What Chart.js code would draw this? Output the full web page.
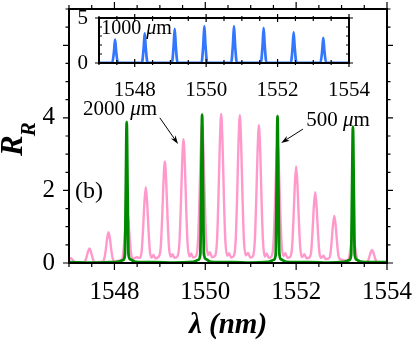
<!DOCTYPE html>
<html>
<head>
<meta charset="utf-8">
<script src="https://cdn.jsdelivr.net/npm/chart.js@4.4.1/dist/chart.umd.min.js"></script>
<style>
  html, body { margin: 0; padding: 0; background: #fff; }
  #wrap { position: relative; width: 415px; height: 345px; }
  #main { position: absolute; left: 0; top: 0; }
  #inset { position: absolute; left: 60px; top: 10px; }
</style>
</head>
<body>
<div id="wrap">
  <canvas id="main" width="415" height="345"></canvas>
  <canvas id="inset" width="330" height="90"></canvas>
</div>
<script>
// spectra: [lambda (nm), R_R]
const spec2000 = [
  [1547.00,0.10],[1547.04,0.13],[1547.07,0.10],[1547.10,0.06],[1547.13,0.02],[1547.25,0.02],
  [1547.32,0.02],[1547.36,0.06],[1547.39,0.18],[1547.42,0.32],[1547.45,0.40],[1547.48,0.32],[1547.51,0.18],[1547.54,0.06],[1547.58,0.02],[1547.66,0.03],
  [1547.74,0.03],[1547.78,0.14],[1547.81,0.37],[1547.84,0.68],[1547.87,0.85],[1547.90,0.68],[1547.93,0.37],[1547.96,0.14],[1548.00,0.04],[1548.08,0.06],
  [1548.15,0.07],[1548.19,0.23],[1548.22,0.62],[1548.25,1.14],[1548.28,1.42],[1548.31,1.14],[1548.34,0.62],[1548.37,0.23],[1548.41,0.12],[1548.49,0.16],
  [1548.56,0.14],[1548.60,0.33],[1548.63,0.92],[1548.66,1.67],[1548.69,2.09],[1548.72,1.67],[1548.75,0.92],[1548.78,0.33],[1548.82,0.15],[1548.86,0.22],[1548.90,0.13],
  [1548.98,0.18],[1549.02,0.45],[1549.05,1.23],[1549.08,2.24],[1549.11,2.80],[1549.14,2.24],[1549.17,1.23],[1549.20,0.45],[1549.24,0.17],[1549.28,0.24],[1549.32,0.14],
  [1549.39,0.19],[1549.43,0.55],[1549.46,1.50],[1549.49,2.73],[1549.52,3.41],[1549.55,2.73],[1549.58,1.50],[1549.61,0.55],[1549.65,0.18],[1549.69,0.26],[1549.73,0.15],
  [1549.80,0.20],[1549.84,0.62],[1549.87,1.69],[1549.90,3.08],[1549.93,3.85],[1549.96,3.08],[1549.99,1.69],[1550.02,0.62],[1550.06,0.22],[1550.10,0.30],[1550.15,0.16],
  [1550.22,0.21],[1550.26,0.66],[1550.29,1.81],[1550.32,3.29],[1550.35,4.11],[1550.38,3.29],[1550.41,1.81],[1550.44,0.66],[1550.48,0.20],[1550.52,0.27],[1550.57,0.15],
  [1550.63,0.20],[1550.67,0.65],[1550.70,1.79],[1550.73,3.26],[1550.76,4.07],[1550.79,3.26],[1550.82,1.79],[1550.85,0.65],[1550.89,0.21],[1550.94,0.28],[1550.99,0.15],
  [1551.05,0.19],[1551.09,0.61],[1551.12,1.67],[1551.15,3.04],[1551.18,3.80],[1551.21,3.04],[1551.24,1.67],[1551.27,0.61],[1551.31,0.18],[1551.35,0.26],[1551.40,0.14],
  [1551.46,0.18],[1551.50,0.53],[1551.53,1.45],[1551.56,2.64],[1551.59,3.30],[1551.62,2.64],[1551.65,1.45],[1551.68,0.53],[1551.72,0.19],[1551.76,0.27],[1551.81,0.14],
  [1551.87,0.17],[1551.91,0.43],[1551.94,1.17],[1551.97,2.13],[1552.00,2.66],[1552.03,2.13],[1552.06,1.17],[1552.09,0.43],[1552.13,0.16],[1552.18,0.24],[1552.23,0.13],
  [1552.29,0.15],[1552.33,0.31],[1552.36,0.86],[1552.39,1.56],[1552.42,1.95],[1552.45,1.56],[1552.48,0.86],[1552.51,0.31],[1552.55,0.14],[1552.60,0.20],[1552.65,0.11],
  [1552.71,0.12],[1552.75,0.21],[1552.78,0.57],[1552.81,1.04],[1552.84,1.30],[1552.87,1.04],[1552.90,0.57],[1552.93,0.21],[1552.97,0.10],[1553.05,0.08],
  [1553.12,0.06],[1553.16,0.12],[1553.19,0.33],[1553.22,0.59],[1553.25,0.74],[1553.28,0.59],[1553.31,0.33],[1553.34,0.12],[1553.38,0.04],[1553.46,0.03],
  [1553.54,0.02],[1553.58,0.06],[1553.61,0.16],[1553.64,0.29],[1553.67,0.36],[1553.70,0.29],[1553.73,0.16],[1553.76,0.06],[1553.80,0.02],[1554.00,0.02]
];

const spec500 = [
  [1547.00,0.02],[1547.50,0.01],[1547.90,0.02],
  [1548.07,0.03],[1548.19,0.08],[1548.23,0.22],[1548.25,1.94],[1548.27,3.88],[1548.29,1.94],[1548.31,0.24],[1548.35,0.10],[1548.47,0.03],
  [1548.90,0.02],[1549.30,0.01],
  [1549.73,0.03],[1549.85,0.09],[1549.89,0.24],[1549.91,2.05],[1549.93,4.09],[1549.95,2.05],[1549.97,0.25],[1550.01,0.11],[1550.13,0.03],
  [1550.60,0.02],[1551.00,0.01],
  [1551.39,0.03],[1551.51,0.09],[1551.55,0.24],[1551.57,2.02],[1551.59,4.05],[1551.61,2.02],[1551.63,0.26],[1551.67,0.10],[1551.79,0.03],
  [1552.30,0.02],[1552.70,0.01],
  [1553.05,0.03],[1553.17,0.08],[1553.21,0.22],[1553.23,1.88],[1553.25,3.75],[1553.27,1.88],[1553.29,0.24],[1553.33,0.09],[1553.45,0.03],
  [1554.00,0.02]
];

const spec1000 = [
  [1547.00,0.02],[1547.37,0.02],[1547.42,1.30],[1547.45,2.60],[1547.48,1.30],[1547.53,0.02],
  [1548.20,0.02],[1548.25,1.65],[1548.28,3.30],[1548.31,1.65],[1548.36,0.02],
  [1549.04,0.02],[1549.09,1.90],[1549.12,3.80],[1549.15,1.90],[1549.20,0.02],
  [1549.87,0.02],[1549.92,2.05],[1549.95,4.10],[1549.98,2.05],[1550.03,0.02],
  [1550.70,0.02],[1550.75,2.05],[1550.78,4.10],[1550.81,2.05],[1550.86,0.02],
  [1551.53,0.02],[1551.58,1.95],[1551.61,3.90],[1551.64,1.95],[1551.69,0.02],
  [1552.37,0.02],[1552.42,1.70],[1552.45,3.40],[1552.48,1.70],[1552.53,0.02],
  [1553.20,0.02],[1553.25,1.40],[1553.28,2.80],[1553.31,1.40],[1553.36,0.02],[1554.00,0.02]
];

const xTickLabels = [1548, 1550, 1552, 1554];
const yTickLabels = [0, 2, 4];
const insetYTickLabels = [0, 5];

const SERIF = '"Liberation Serif", "Times New Roman", serif';

function puntos(arr) {
  return arr.map(p => ({ x: p[0], y: p[1] }));
}

// fixed axis box, no extra room reserved for label overhang
function fijarEje(size) {
  return s => {
    if (s.isHorizontal()) s.height = size; else s.width = size;
    s.paddingLeft = 0; s.paddingRight = 0; s.paddingTop = 0; s.paddingBottom = 0;
  };
}

// frame and tick marks on the four sides
function marcoPlugin(cfg) {
  return {
    id: 'marco',
    afterDraw(chart) {
      const { ctx, chartArea: a, scales } = chart;
      ctx.save();
      ctx.strokeStyle = '#000';
      ctx.lineWidth = 1.2;
      ctx.beginPath();
      for (let v = scales.x.min; v <= scales.x.max + 1e-6; v += cfg.xStep) {
        const px = scales.x.getPixelForValue(v);
        const [tin, tout] = cfg.xTick(v);
        ctx.moveTo(px, a.bottom - tin); ctx.lineTo(px, a.bottom + tout);
        ctx.moveTo(px, a.top + tin); ctx.lineTo(px, a.top - tout);
      }
      for (let v = scales.y.min; v <= scales.y.max + 1e-6; v += cfg.yStep) {
        const py = scales.y.getPixelForValue(v);
        const [tin, tout] = cfg.yTick(v);
        ctx.moveTo(a.left + tin, py); ctx.lineTo(a.left - tout, py);
        ctx.moveTo(a.right - tin, py); ctx.lineTo(a.right + tout, py);
      }
      ctx.stroke();
      ctx.lineWidth = cfg.frame;
      ctx.strokeRect(a.left, a.top, a.right - a.left, a.bottom - a.top);
      ctx.restore();
    }
  };
}

function textoMicras(ctx, num, x, y, size) {
  ctx.font = size + 'px ' + SERIF;
  ctx.fillText(num + ' ', x, y);
  x += ctx.measureText(num + ' ').width;
  ctx.font = 'italic ' + size + 'px ' + SERIF;
  ctx.fillText('\u03bc', x, y);
  x += ctx.measureText('\u03bc').width;
  ctx.font = size + 'px ' + SERIF;
  ctx.fillText('m', x, y);
}

function flecha(ctx, x0, y0, x1, y1) {
  const ang = Math.atan2(y1 - y0, x1 - x0);
  ctx.beginPath();
  ctx.moveTo(x0, y0);
  ctx.lineTo(x1 - 6 * Math.cos(ang), y1 - 6 * Math.sin(ang));
  ctx.stroke();
  ctx.beginPath();
  ctx.moveTo(x1, y1);
  ctx.lineTo(x1 - 9 * Math.cos(ang - 0.32), y1 - 9 * Math.sin(ang - 0.32));
  ctx.lineTo(x1 - 6 * Math.cos(ang), y1 - 6 * Math.sin(ang));
  ctx.lineTo(x1 - 9 * Math.cos(ang + 0.32), y1 - 9 * Math.sin(ang + 0.32));
  ctx.closePath();
  ctx.fill();
}

const notasPlugin = {
  id: 'notas',
  afterDraw(chart) {
    const { ctx, scales: { x, y } } = chart;
    ctx.save();
    ctx.fillStyle = '#000';
    ctx.strokeStyle = '#000';
    ctx.lineWidth = 1;
    ctx.textBaseline = 'alphabetic';
    ctx.textAlign = 'left';
    textoMicras(ctx, '2000', x.getPixelForValue(1547.31), y.getPixelForValue(4.08), 21);
    textoMicras(ctx, '500', x.getPixelForValue(1552.22), y.getPixelForValue(3.78), 21);
    ctx.font = '24px ' + SERIF;
    ctx.fillText('(b)', x.getPixelForValue(1547.13), y.getPixelForValue(1.79));
    flecha(ctx, x.getPixelForValue(1549.0), y.getPixelForValue(4.0),
                x.getPixelForValue(1549.40), y.getPixelForValue(3.28));
    flecha(ctx, x.getPixelForValue(1552.15), y.getPixelForValue(3.69),
                x.getPixelForValue(1551.67), y.getPixelForValue(3.31));

    // y axis title R_R
    ctx.translate(22, 156);
    ctx.rotate(-Math.PI / 2);
    ctx.font = 'italic bold 31px ' + SERIF;
    ctx.fillText('R', 0, 0);
    const w = ctx.measureText('R').width;
    ctx.font = 'italic bold 21px ' + SERIF;
    ctx.fillText('R', w - 1, 13);
    ctx.restore();
  }
};

const notaInsetPlugin = {
  id: 'notaInset',
  afterDraw(chart) {
    const { ctx, scales: { x, y } } = chart;
    ctx.save();
    ctx.fillStyle = '#000';
    ctx.textBaseline = 'alphabetic';
    textoMicras(ctx, '1000', x.getPixelForValue(1547.06), y.getPixelForValue(3.2), 20);
    ctx.restore();
  }
};

const chartMain = new Chart(document.getElementById('main'), {
  type: 'line',
  data: {
    datasets: [
      { data: puntos(spec500), borderColor: '#008a00', borderWidth: 2.8, pointRadius: 0, cubicInterpolationMode: 'monotone' },
      { data: puntos(spec2000), borderColor: '#ff99cc', borderWidth: 2.4, pointRadius: 0, cubicInterpolationMode: 'monotone' }
    ]
  },
  options: {
    responsive: false,
    animation: false,
    events: [],
    layout: { padding: { top: 9, right: 28, left: 0, bottom: 0 } },
    plugins: { legend: { display: false }, tooltip: { enabled: false } },
    scales: {
      x: {
        type: 'linear', min: 1547, max: 1554,
        afterBuildTicks: s => { s.ticks = xTickLabels.map(v => ({ value: v })); },
        afterFit: fijarEje(82),
        grid: { display: false, drawTicks: false },
        border: { display: false },
        ticks: { color: '#000', padding: 14, maxRotation: 0, font: { family: SERIF, size: 25 }, callback: v => String(v) },
        title: { display: true, text: '\u03bb (nm)', color: '#000', padding: { top: 0, bottom: 2 },
                 font: { family: SERIF, size: 29, style: 'italic', weight: 'bold' } }
      },
      y: {
        min: 0, max: 7,
        afterBuildTicks: s => { s.ticks = yTickLabels.map(v => ({ value: v })); },
        afterFit: fijarEje(69),
        grid: { display: false, drawTicks: false },
        border: { display: false },
        ticks: { color: '#000', padding: 14, font: { family: SERIF, size: 25 }, callback: v => String(v) }
      }
    }
  },
  plugins: [
    marcoPlugin({
      frame: 2, xStep: 0.5, yStep: 0.5,
      xTick: v => (v % 2 === 0 ? [0, 7] : [0, 4]),
      yTick: v => (v % 2 === 0 ? [0, 6] : [0, 3.5])
    }),
    notasPlugin
  ]
});

const chartInset = new Chart(document.getElementById('inset'), {
  type: 'line',
  data: {
    datasets: [
      { data: puntos(spec1000), borderColor: '#3377ff', borderWidth: 2.7, pointRadius: 0, cubicInterpolationMode: 'monotone' }
    ]
  },
  options: {
    responsive: false,
    animation: false,
    events: [],
    layout: { padding: { top: 8, right: 41, left: 0, bottom: 0 } },
    plugins: { legend: { display: false }, tooltip: { enabled: false } },
    scales: {
      x: {
        type: 'linear', min: 1547, max: 1554,
        afterBuildTicks: s => { s.ticks = xTickLabels.map(v => ({ value: v })); },
        afterFit: fijarEje(37),
        grid: { display: false, drawTicks: false },
        border: { display: false },
        ticks: { color: '#000', padding: 15, maxRotation: 0, font: { family: SERIF, size: 21 }, callback: v => String(v) }
      },
      y: {
        min: 0, max: 5,
        afterBuildTicks: s => { s.ticks = insetYTickLabels.map(v => ({ value: v })); },
        afterFit: fijarEje(39),
        grid: { display: false, drawTicks: false },
        border: { display: false },
        ticks: { color: '#000', padding: 11, font: { family: SERIF, size: 21 }, callback: v => String(v) }
      }
    }
  },
  plugins: [
    marcoPlugin({
      frame: 2, xStep: 0.5, yStep: 1,
      xTick: v => (v % 2 === 0 ? [4, 4] : [3, 2]),
      yTick: v => (v % 5 === 0 ? [4, 4] : [3, 0])
    }),
    notaInsetPlugin
  ]
});
</script>
</body>
</html>
